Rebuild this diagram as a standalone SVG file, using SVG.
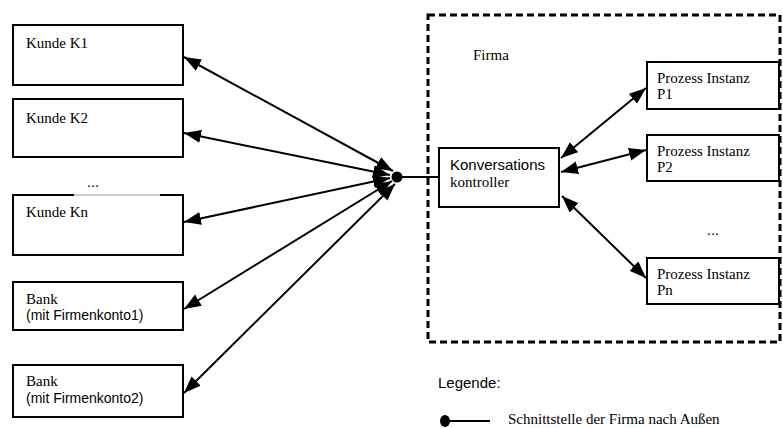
<svg xmlns="http://www.w3.org/2000/svg" width="783" height="428" viewBox="0 0 783 428">
<style>
.box{fill:#fff;stroke:#000;stroke-width:2}
.tr{font-family:"Liberation Serif","Times New Roman",serif;font-size:15px;fill:#000}
.ar{font-family:"Liberation Sans",Arial,sans-serif;font-size:15px;fill:#000}
.ar14{font-family:"Liberation Sans",Arial,sans-serif;font-size:14px;fill:#000}
.conn{stroke:#000;stroke-width:2;fill:none}
.dbl{marker-start:url(#ah);marker-end:url(#ah)}
</style>
<defs>
<marker id="ah" markerUnits="userSpaceOnUse" markerWidth="18" markerHeight="14" refX="17" refY="6.5" orient="auto-start-reverse" viewBox="0 0 18 14">
<path d="M0,0 L17,6.5 L0,13 z" fill="#000"/>
</marker>
</defs>
<rect id="firma-frame" x="428" y="15" width="352" height="327" fill="none" stroke="#000" stroke-width="3" stroke-dasharray="7 4"/>
<text class="tr" x="473" y="60">Firma</text>
<g id="kunde-k1"><rect class="box" x="13" y="25" width="170" height="60"/><text class="tr" x="26" y="48">Kunde K1</text></g>
<g id="kunde-k2"><rect class="box" x="13" y="99" width="170" height="58"/><text class="tr" x="26" y="123">Kunde K2</text></g>
<text class="ar" x="93" y="187" text-anchor="middle">...</text>
<g id="kunde-kn"><rect class="box" x="13" y="195" width="170" height="60"/><line x1="74" y1="195" x2="160" y2="195" stroke="#cfcfcf" stroke-width="2"/><text class="tr" x="26" y="217">Kunde Kn</text></g>
<g id="bank1"><rect class="box" x="13" y="282" width="170" height="48"/><text class="tr" x="26" y="304">Bank</text><text class="ar14" x="26" y="320">(mit Firmenkonto1)</text></g>
<g id="bank2"><rect class="box" x="13" y="365" width="170" height="52"/><text class="tr" x="26" y="386">Bank</text><text class="ar14" x="26" y="403">(mit Firmenkonto2)</text></g>
<g id="kontroller"><rect class="box" x="439" y="148" width="120" height="59"/><text class="ar" x="450" y="170">Konversations</text><text class="tr" x="450" y="187">kontroller</text></g>
<g id="p1"><rect class="box" x="647" y="62" width="132" height="47"/><text class="tr" x="657" y="83">Prozess Instanz</text><text class="tr" x="657" y="99">P1</text></g>
<g id="p2"><rect class="box" x="647" y="135" width="132" height="46"/><text class="tr" x="657" y="156">Prozess Instanz</text><text class="tr" x="657" y="172">P2</text></g>
<text class="ar" x="713" y="235" text-anchor="middle">...</text>
<g id="pn"><rect class="box" x="647" y="258" width="132" height="46"/><text class="tr" x="657" y="279">Prozess Instanz</text><text class="tr" x="657" y="295">Pn</text></g>
<g id="connectors">
<line class="conn dbl" x1="184" y1="57" x2="393" y2="171"/>
<line class="conn dbl" x1="184" y1="133" x2="390" y2="175"/>
<line class="conn dbl" x1="184" y1="222" x2="390" y2="178"/>
<line class="conn dbl" x1="184" y1="309" x2="392" y2="181"/>
<line class="conn dbl" x1="184" y1="393" x2="395" y2="184"/>
<line class="conn" x1="397" y1="177" x2="439" y2="177"/>
<circle cx="397" cy="177" r="5.5" fill="#000"/>
<line class="conn dbl" x1="561" y1="158" x2="646" y2="88"/>
<line class="conn dbl" x1="561" y1="172" x2="646" y2="150"/>
<line class="conn dbl" x1="562" y1="196" x2="646" y2="278"/>
</g>
<g id="legend">
<text class="ar" x="438" y="388">Legende:</text>
<ellipse cx="445" cy="421" rx="5" ry="6" fill="#000"/>
<line x1="447" y1="421" x2="490" y2="421" stroke="#000" stroke-width="2"/>
<text class="tr" x="508" y="424">Schnittstelle der Firma nach Außen</text>
</g>
</svg>
